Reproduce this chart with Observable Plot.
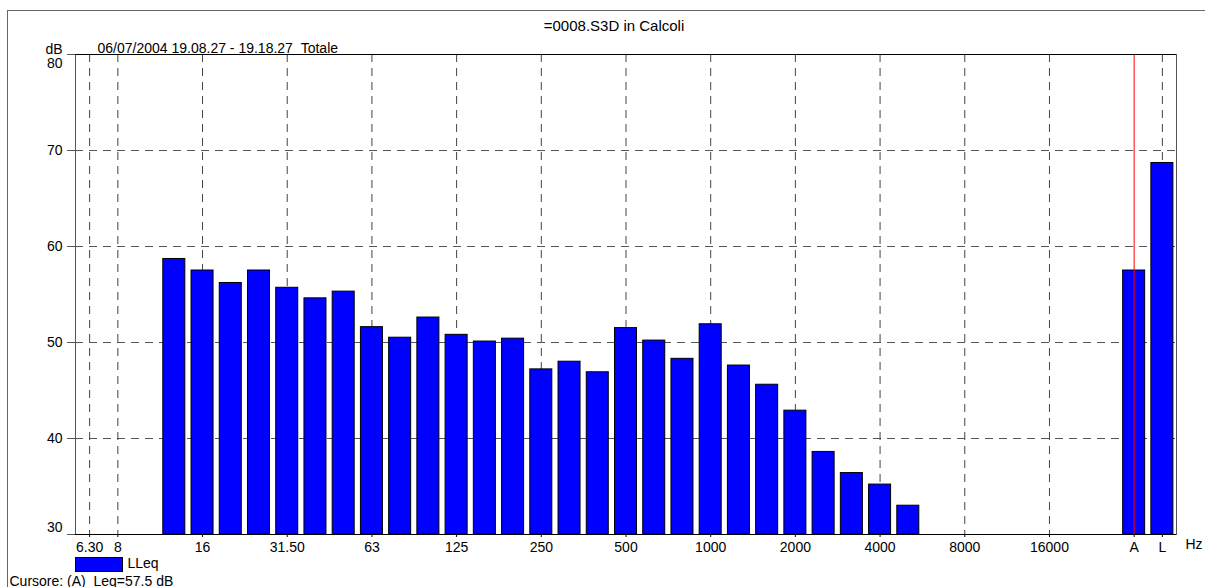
<!DOCTYPE html>
<html><head><meta charset="utf-8">
<script src="https://cdn.jsdelivr.net/npm/d3@7"></script>
<script src="https://cdn.jsdelivr.net/npm/@observablehq/plot@0.6"></script>
<style>body{margin:0;background:#fff;overflow:hidden}</style>
</head><body><div id="chart"></div>
<script>
// x slots (third-octave bands, one empty slot, then A and L totals)
const bands = ["6.3","8","10","12.5","16","20","25","31.5","40","50","63","80","100","125","160","200","250","315","400","500","630","800","1000","1250","1600","2000","2500","3150","4000","5000","6300","8000","10000","12500","16000","20000"," ","A","L"];
// measured bands
const freqs = ["12.5","16","20","25","31.5","40","50","63","80","100","125","160","200","250","315","400","500","630","800","1000","1250","1600","2000","2500","3150","4000","5000","A","L"];
const lleq = [58.7,57.5,56.2,57.5,55.7,54.6,55.3,51.6,50.5,52.6,50.8,50.1,50.4,47.2,48.0,46.9,51.5,50.2,48.3,51.9,47.6,45.6,42.9,38.6,36.4,35.2,33.0,57.5,68.7];
// axis ticks
const tickBands = ["6.3","8","16","31.5","63","125","250","500","1000","2000","4000","8000","16000","A","L"];
const tickLabels = ["6.30","8","16","31.50","63","125","250","500","1000","2000","4000","8000","16000","A","L"];
const gridBands = ["6.3","8","16","31.5","63","125","250","500","1000","2000","4000","8000","16000","L"];
const yTicks = [30,40,50,60,70,80];
const yMidLabels = [40,50,60,70];
const yGrid = [40,50,60,70];
const cursorBand = ["A"];
const title = "=0008.S3D in Calcoli";
const subtitle = "06/07/2004 19.08.27 - 19.18.27\u00a0\u00a0Totale";
const legendLabel = "LLeq";
const cursorText = "Cursore: (A)\u00a0\u00a0Leq=57.5 dB";

const data = freqs.map((f, i) => ({band: f, value: lleq[i]}));
const labelOf = new Map(tickBands.map((b, i) => [b, tickLabels[i]]));
const font = "Liberation Sans, Arial, sans-serif";

const chart = Plot.plot({
  width: 1205,
  height: 587,
  marginLeft: 75,
  marginRight: 29,
  marginTop: 54,
  marginBottom: 53,
  style: {fontFamily: font, fontSize: "14px", background: "#fff", color: "#000"},
  x: {type: "band", domain: bands, paddingInner: 0.22, paddingOuter: 0.11, align: 0.5, round: false},
  y: {domain: [30, 80]},
  marks: [
    Plot.ruleY(yGrid, {stroke: "#555", strokeDasharray: "8,6", strokeWidth: 1}),
    Plot.ruleX(gridBands, {stroke: "#444", strokeDasharray: "8,6", strokeWidth: 1}),
    Plot.barY(data, {x: "band", y1: 30, y2: "value", fill: "#0000ff", stroke: "#000", strokeWidth: 1}),
    Plot.ruleX(cursorBand, {stroke: "#ff0000", strokeWidth: 1}),
    Plot.frame({stroke: "#555"}),
    Plot.ruleY([30], {stroke: "#000"}),
    Plot.ruleY([80], {stroke: "#000"}),
    Plot.axisY({ticks: yTicks, tickSize: 8, text: null, label: null, stroke: "#555"}),
    Plot.text(yMidLabels, {y: d => d, frameAnchor: "left", textAnchor: "end", dx: -13, fontSize: 14}),
    Plot.text([80], {y: d => d, frameAnchor: "left", textAnchor: "end", dx: -13, dy: 9, fontSize: 14}),
    Plot.text([30], {y: d => d, frameAnchor: "left", textAnchor: "end", dx: -13, dy: -7, fontSize: 14}),
    Plot.axisX({ticks: tickBands, tickFormat: d => labelOf.get(d), tickSize: 3, tickPadding: 5, label: null, fontSize: 14}),
    Plot.text([title], {frameAnchor: "top", dx: -12, dy: -34, fontSize: 15}),
    Plot.text(["dB"], {frameAnchor: "top-left", textAnchor: "end", dx: -13, dy: -10, fontSize: 14}),
    Plot.text([subtitle], {frameAnchor: "top-left", textAnchor: "start", dx: 22, dy: -11, fontSize: 14}),
    Plot.text(["Hz"], {frameAnchor: "bottom-right", textAnchor: "start", dx: 9, dy: 14, fontSize: 14}),
    Plot.text([legendLabel], {frameAnchor: "bottom-left", textAnchor: "start", dx: 52, dy: 33, fontSize: 14}),
    Plot.text([cursorText], {frameAnchor: "bottom-left", textAnchor: "start", dx: -66, dy: 51, fontSize: 14})
  ]
});

const svg = d3.select(chart);
// outer frame of the print page
svg.insert("rect", ":first-child")
  .attr("x", 7.5).attr("y", 10.5).attr("width", 1230).attr("height", 600)
  .attr("fill", "none").attr("stroke", "#666");
// legend swatch
svg.append("rect")
  .attr("x", 75.5).attr("y", 557.5).attr("width", 47).attr("height", 14)
  .attr("fill", "#0000ff").attr("stroke", "#000");
document.getElementById("chart").appendChild(chart);
</script></body></html>
